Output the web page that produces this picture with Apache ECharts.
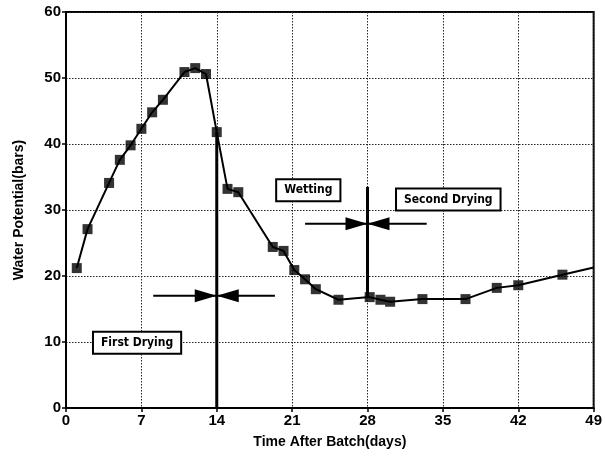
<!DOCTYPE html>
<html><head><meta charset="utf-8">
<script src="https://cdn.jsdelivr.net/npm/echarts@6/dist/echarts.min.js"></script>
<style>html,body{margin:0;padding:0;background:#fff}#c{width:605px;height:459px}</style>
</head><body><div id="c"></div>
<script>
// ---- data ----
const days = [1, 2, 4, 5, 6, 7, 8, 9, 11, 12, 13, 14, 15, 16, 19.2, 20.2, 21.2, 22.2, 23.2, 25.3, 28.2, 29.2, 30.1, 33.1, 37.1, 40, 42, 46.1, 49];
const potential = [21.2, 27.1, 34.1, 37.6, 39.8, 42.3, 44.8, 46.7, 50.9, 51.5, 50.6, 41.8, 33.2, 32.7, 24.4, 23.8, 20.9, 19.5, 18.0, 16.4, 16.8, 16.4, 16.1, 16.5, 16.5, 18.2, 18.6, 20.2, 21.3];
const xTicks = [0, 7, 14, 21, 28, 35, 42, 49];
const yTicks = [0, 10, 20, 30, 40, 50, 60];
// annotations (data units)
const dividerX = [14, 28];
const dividerFrom = [0, 16.8];
const dividerTo = [41.8, 33.5];
const arrowY = [17.0, 27.9];
const arrowFrom = [8.1, 22.2];
const arrowTo = [19.4, 33.5];
const phaseNames = ['First Drying', 'Wetting', 'Second Drying'];
const phaseX = [6.6, 22.5, 35.5];
const phaseY = [9.9, 33.0, 31.6];

const pts = days.map((d, i) => [d, potential[i]]);
const markedPts = pts.slice(0, pts.length - 1);

const chart = echarts.init(document.getElementById('c'));
const txt = {color: '#000', fontFamily: 'Liberation Sans, Arial, sans-serif', fontWeight: 'bold'};

chart.setOption({
  animation: false,
  grid: {left: 66, right: 10, top: 12, bottom: 51, show: true, borderColor: '#000', borderWidth: 2, backgroundColor: 'transparent'},
  xAxis: {
    type: 'value', min: 0, max: 49, interval: 7,
    name: 'Time After Batch(days)', nameLocation: 'middle', nameGap: 27,
    nameTextStyle: Object.assign({fontSize: 14}, txt),
    axisLine: {show: true, lineStyle: {color: '#000', width: 2}},
    axisTick: {show: true, length: 4, lineStyle: {color: '#000', width: 1.5}},
    axisLabel: Object.assign({fontSize: 15, margin: 5, formatter: v => xTicks.includes(v) ? String(v) : ''}, txt),
    splitLine: {show: true, lineStyle: {color: '#222', type: [1.5, 1.5], width: 1}}
  },
  yAxis: {
    type: 'value', min: 0, max: 60, interval: 10,
    name: 'Water Potential(bars)', nameLocation: 'middle', nameGap: 40,
    nameTextStyle: Object.assign({fontSize: 14}, txt),
    axisLine: {show: true, lineStyle: {color: '#000', width: 2}},
    axisTick: {show: true, length: 4, lineStyle: {color: '#000', width: 1.5}},
    axisLabel: Object.assign({fontSize: 15, margin: 5, formatter: v => yTicks.includes(v) ? String(v) : ''}, txt),
    splitLine: {show: true, lineStyle: {color: '#222', type: [1.5, 1.5], width: 1}}
  },
  series: [
    {
      type: 'line', data: pts, showSymbol: false, symbol: 'none',
      lineStyle: {color: '#000', width: 2}, z: 3
    },
    {
      type: 'scatter', data: markedPts, symbol: 'rect', symbolSize: 10,
      itemStyle: {color: '#000'}, z: 4
    },
    {
      type: 'custom', z: 5, data: dividerX.map((x, i) => [i]),
      renderItem: function (params, api) {
        const i = api.value(0);
        const children = [];
        const a = api.coord([dividerX[i], dividerFrom[i]]);
        const b = api.coord([dividerX[i], dividerTo[i]]);
        children.push({type: 'line', shape: {x1: a[0], y1: a[1], x2: b[0], y2: b[1]}, style: {stroke: '#000', lineWidth: 3}});
        const l = api.coord([arrowFrom[i], arrowY[i]]);
        const r = api.coord([arrowTo[i], arrowY[i]]);
        const c = api.coord([dividerX[i], arrowY[i]]);
        children.push({type: 'line', shape: {x1: l[0], y1: l[1], x2: r[0], y2: r[1]}, style: {stroke: '#000', lineWidth: 2}});
        const L = 22, H = 6.5;
        children.push({type: 'polygon', shape: {points: [[c[0] - L, c[1] - H], [c[0], c[1]], [c[0] - L, c[1] + H]]}, style: {fill: '#000'}});
        children.push({type: 'polygon', shape: {points: [[c[0] + L, c[1] - H], [c[0], c[1]], [c[0] + L, c[1] + H]]}, style: {fill: '#000'}});
        return {type: 'group', children: children};
      }
    },
    {
      type: 'custom', z: 6, data: phaseNames.map((n, i) => [i]),
      renderItem: function (params, api) {
        const i = api.value(0);
        const p = api.coord([phaseX[i], phaseY[i]]);
        return {
          type: 'text', x: p[0], y: p[1],
          style: {
            text: phaseNames[i], align: 'center', verticalAlign: 'middle',
            font: 'bold 12px "DejaVu Sans Condensed", sans-serif', fill: '#000',
            backgroundColor: '#fff', borderColor: '#000', borderWidth: 2,
            padding: [4, 7, 4, 7]
          }
        };
      }
    }
  ]
});
</script>
</body></html>
